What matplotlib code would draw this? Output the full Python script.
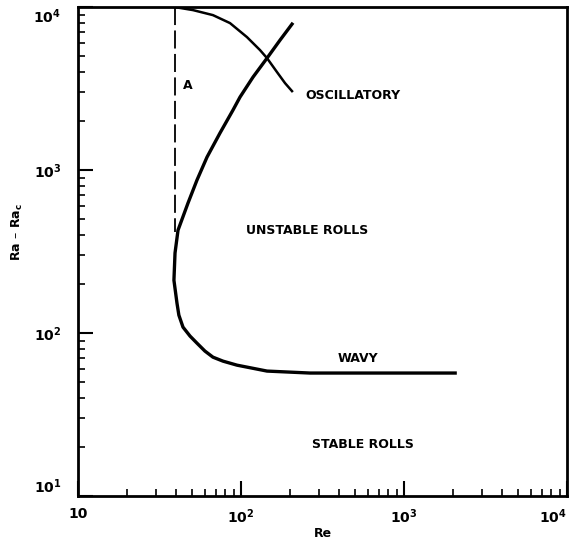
import matplotlib
matplotlib.use("Agg")
import matplotlib.pyplot as plt

plt.rcParams['font.family'] = ['DejaVu Sans']
plt.rcParams['font.weight'] = 'bold'
plt.rcParams['mathtext.default'] = 'bf'

# boundary between stable / wavy / unstable rolls (lower branch -> upper branch)
re_main = [2056, 265, 144.4, 116.8, 94.5, 77.6, 67.3, 60.1, 53.7, 48.7, 44.1, 41.6,
           40.5, 38.8, 39.4, 41.1, 47.3, 53.7, 61.9, 74.3, 89.3, 98.6, 118.5,
           144.4, 173.5, 205.5]
ra_main = [56.9, 56.9, 58.5, 61.0, 63.6, 67.3, 71.2, 77.6, 86.8, 95.9, 108.8, 128.9,
           152.8, 211, 310, 428, 627, 868, 1202, 1687, 2335, 2805, 3721,
           4864, 6273, 7865]

# oscillatory boundary
re_osc = [39.4, 50.8, 67.3, 85.6, 108.8, 130.8, 144.4, 166.3, 186.2, 205.5]
ra_osc = [10000, 9585, 8930, 7980, 6546, 5450, 4864, 3992, 3418, 3052]

# dashed line A
re_a = [39.4, 39.4]
ra_a = [10000, 420]

x_ticks = [10, 100, 1000, 10000]
x_labels = ['10', '$10^{2}$', '$10^{3}$', '$10^{4}$']
y_ticks = [10, 100, 1000, 10000]
y_labels = ['$10^{1}$', '$10^{2}$', '$10^{3}$', '$10^{4}$']

fig = plt.figure(figsize=(5.77, 5.47), dpi=100)
ax = fig.add_axes([0.135, 0.093, 0.848, 0.894])

ax.plot(re_main, ra_main, color='black', lw=2.4, solid_joinstyle='round')
ax.plot(re_osc, ra_osc, color='black', lw=1.8, solid_joinstyle='round')
ax.plot(re_a, ra_a, color='black', lw=1.3, dashes=(10, 3))

ax.set_xscale('log')
ax.set_yscale('log')
ax.set_xlim(10, 10000)
ax.set_ylim(10, 10000)

ax.set_xticks(x_ticks)
ax.set_xticklabels(x_labels)
ax.set_yticks(y_ticks)
ax.set_yticklabels(y_labels)
ax.tick_params(which='major', direction='in', length=11, width=1.5, labelsize=10, pad=8)
ax.tick_params(which='minor', direction='in', length=5, width=1.2)
ax.tick_params(axis='y', pad=12)
ax.get_xticklabels()[-1].set_horizontalalignment('right')
ax.get_yticklabels()[-1].set_verticalalignment('top')
ax.get_yticklabels()[0].set_verticalalignment('bottom')
for s in ax.spines.values():
    s.set_linewidth(2.0)

ax.set_xlabel('Re', fontsize=9, fontweight='bold', labelpad=1)
ax.set_ylabel('Ra – Ra$_c$', fontsize=9, fontweight='bold')
ax.yaxis.set_label_coords(-0.108, 0.54)

ax.text(47.3, 3320, 'A', fontsize=9, fontweight='bold', ha='center', va='center')
ax.text(247, 2884, 'OSCILLATORY', fontsize=9, fontweight='bold', ha='left', va='center')
ax.text(254, 428, 'UNSTABLE ROLLS', fontsize=9, fontweight='bold', ha='center', va='center')
ax.text(522, 70.3, 'WAVY', fontsize=9, fontweight='bold', ha='center', va='center')
ax.text(560, 20.8, 'STABLE ROLLS', fontsize=9, fontweight='bold', ha='center', va='center')

fig.savefig('out.png', dpi=100)
